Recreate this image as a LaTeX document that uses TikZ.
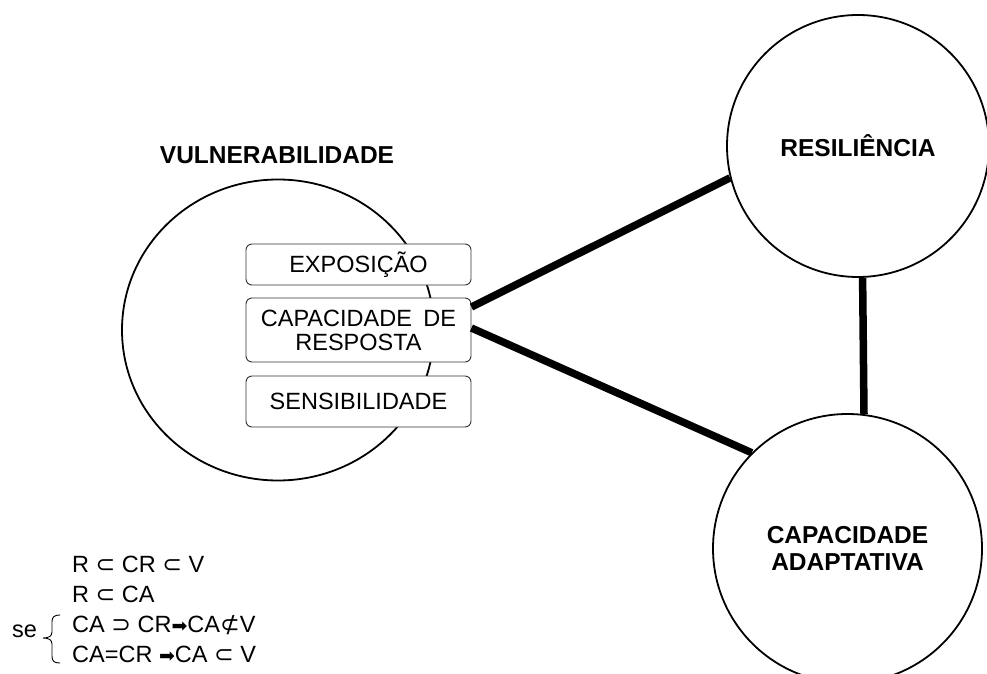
\documentclass[tikz,border=0pt]{standalone}
\usepackage{fontspec}
\setmainfont{Liberation Sans}
\newfontfamily\symf{DejaVu Sans}
\usetikzlibrary{shapes.geometric}
\newcommand{\subs}{{\symf ⊂}}
\newcommand{\sups}{{\symf ⊃}}
\newcommand{\nsubs}{{\symf ⊄}}
\newcommand{\rarr}{{\symf\fontsize{19}{19}\selectfont ➡}}
\tikzset{
  bigcirc/.style={circle, draw, line width=1.8pt, inner sep=0pt},
  biglabel/.style={font=\fontsize{24.5}{27}\selectfont\bfseries, align=center},
  itembox/.style={draw=black!80, line width=0.9pt, rounded corners=6pt, minimum width=225pt,
    inner sep=0pt, align=center, font=\fontsize{23.5}{24}\selectfont},
  link/.style={line width=7.5pt},
  formula/.style={anchor=base west, inner sep=0pt, font=\fontsize{23.5}{26}\selectfont}
}
\begin{document}
\begin{tikzpicture}[x=1pt,y=1pt]
\useasboundingbox (0,0) rectangle (987,673);
% vulnerability ellipse
\node[ellipse, draw, line width=1.8pt, inner sep=0pt, minimum width=312pt, minimum height=301pt] (vul) at (278,343) {};
\node[biglabel] (vultxt) at (277,518) {VULNERABILIDADE};
% boxes
\node[itembox, fill=white, minimum height=41pt] (exp) at (358.5,408.5) {EXPOSIÇÃO};
\node[itembox, fill=white, minimum height=64pt] (cr) at (358.5,343) {CAPACIDADE\hspace{5pt} DE\\RESPOSTA};
\node[itembox, fill=white, minimum height=51pt] (sen) at (358.5,271.5) {SENSIBILIDADE};
% big circles
\node[bigcirc, minimum size=262pt] (res) at (858,527) {};
\node[biglabel] at (res.center) {RESILIÊNCIA};
\node[bigcirc, minimum size=269pt] (ada) at (847.5,124.5) {};
\node[biglabel] at (ada.center) {CAPACIDADE\\ADAPTATIVA};
% connectors
\coordinate (crup) at ([yshift=23pt]cr.east);
\coordinate (crlo) at ([yshift=2pt]cr.east);
\draw[link] (crup) -- (res.194);
\draw[link] (crlo) -- (ada.135);
\draw[link] (res.-88) -- (ada.83);
% formulas
\node[formula] (f1) at (72,101) {R \subs\ CR \subs\ V};
\node[formula] (f2) at (72,71) {R \subs\ CA};
\node[formula] (f3) at (72,41) {CA \sups\ CR\rarr CA\nsubs V};
\node[formula] (f4) at (72,11) {CA=CR \rarr CA \subs\ V};
\node[formula] (se) at (12,36) {se};
\draw[line width=0.9pt] (60,58) .. controls (54,58) and (52,56) .. (52,51) -- (52,41)
  .. controls (52,37) and (49,35) .. (43,35) .. controls (49,35) and (52,33) .. (52,29)
  -- (52,17) .. controls (52,12) and (54,10) .. (60,10);
\end{tikzpicture}
\end{document}
